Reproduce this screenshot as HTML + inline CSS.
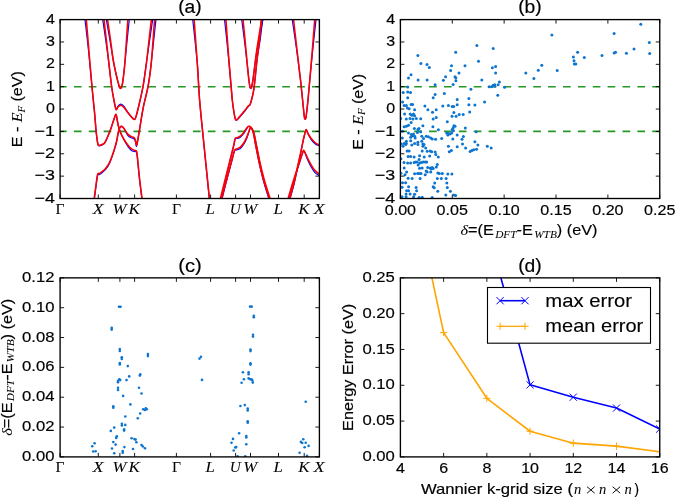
<!DOCTYPE html><html><head><meta charset="utf-8"><style>html,body{margin:0;padding:0;background:#fff;overflow:hidden}svg{display:block;will-change:transform}text{font-family:"Liberation Sans",sans-serif;fill:#000;stroke:#000;stroke-width:0.18px}.m{font-family:"Liberation Serif",serif;font-style:italic;stroke-width:0.05px}.u{font-family:"Liberation Serif",serif;font-style:normal;stroke-width:0.05px}</style></head><body>
<svg width="675" height="497" viewBox="0 0 675 497">
<defs><clipPath id="ca"><rect x="60.1" y="19.6" width="259.29999999999995" height="178.9"/></clipPath><clipPath id="cb"><rect x="400.4" y="19.6" width="259.35" height="178.9"/></clipPath><clipPath id="cc"><rect x="60.1" y="277.85" width="259.29999999999995" height="179.04999999999995"/></clipPath><clipPath id="cd"><rect x="400.4" y="277.85" width="259.35" height="179.04999999999995"/></clipPath></defs>
<g clip-path="url(#ca)" fill="none" stroke-linejoin="round">
<line x1="60.1" y1="86.69" x2="319.4" y2="86.69" stroke="#259825" stroke-width="1.6" stroke-dasharray="7.7 7.18" stroke-dashoffset="1.1"/>
<line x1="60.1" y1="131.41" x2="319.4" y2="131.41" stroke="#259825" stroke-width="1.6" stroke-dasharray="7.7 7.18" stroke-dashoffset="1.1"/>
<path d="M84.70,17.10C85.34,22.71 87.35,39.11 88.56,50.76C89.78,62.41 91.01,76.79 92.00,87.00C92.99,97.21 93.83,104.83 94.50,112.00C95.17,119.17 95.55,125.29 96.00,130.00C96.45,134.71 96.83,137.69 97.20,140.23C97.57,142.78 97.73,144.36 98.20,145.26C98.67,146.17 99.28,145.78 100.00,145.67C100.72,145.57 101.65,145.19 102.50,144.65C103.35,144.10 103.83,144.70 105.10,142.39C106.37,140.08 108.57,134.83 110.10,130.80C111.63,126.77 113.30,120.93 114.30,118.20C115.30,115.47 115.62,114.10 116.10,114.40C116.58,114.70 116.80,117.98 117.20,120.00C117.60,122.02 117.95,124.41 118.50,126.50C119.05,128.59 119.58,130.33 120.50,132.53C121.42,134.73 122.72,137.33 124.00,139.72C125.28,142.11 126.88,145.05 128.20,146.88C129.52,148.71 130.72,149.89 131.90,150.68C133.08,151.47 134.52,151.39 135.30,151.61C136.08,151.84 136.23,150.86 136.60,152.04C136.97,153.22 137.02,154.18 137.50,158.71C137.98,163.25 138.73,172.23 139.50,179.25C140.27,186.27 141.67,197.22 142.10,200.81" stroke="#0000ff" stroke-width="1.2"/>
<path d="M102.40,17.10C103.28,23.23 106.12,42.22 107.67,53.87C109.22,65.52 110.56,78.81 111.70,87.00C112.84,95.19 113.77,99.25 114.50,103.00C115.23,106.75 115.52,108.96 116.10,109.50C116.68,110.04 117.20,107.13 118.00,106.25C118.80,105.37 119.90,104.16 120.90,104.20C121.90,104.24 122.82,105.08 124.00,106.50C125.18,107.92 126.75,110.95 128.00,112.70C129.25,114.45 130.37,115.88 131.50,117.00C132.63,118.12 133.88,120.07 134.80,119.40C135.72,118.73 136.12,116.20 137.00,113.00C137.88,109.80 139.08,104.67 140.10,100.20C141.12,95.73 142.08,92.18 143.10,86.18C144.12,80.19 145.19,71.34 146.20,64.23C147.21,57.11 148.05,51.37 149.19,43.51C150.32,35.66 152.36,21.50 153.00,17.10" stroke="#0000ff" stroke-width="1.2"/>
<path d="M105.90,17.10C106.52,20.64 108.44,31.34 109.63,38.33C110.82,45.32 111.99,53.18 113.05,59.05C114.11,64.92 115.11,69.49 116.00,73.55C116.89,77.61 117.80,81.08 118.40,83.39C119.00,85.70 119.25,86.56 119.60,87.40C119.95,88.24 120.20,88.40 120.50,88.40C120.80,88.40 121.05,88.32 121.40,87.40C121.75,86.48 122.17,85.52 122.60,82.87C123.03,80.22 123.56,75.45 124.00,71.48C124.44,67.51 124.34,68.11 125.25,59.05C126.17,49.99 128.79,24.09 129.50,17.10" stroke="#0000ff" stroke-width="1.2"/>
<path d="M94.10,200.81C94.42,198.42 95.42,190.63 96.00,186.44C96.58,182.25 97.05,177.64 97.60,175.66C98.15,173.67 98.72,174.89 99.30,174.53C99.88,174.17 100.08,174.30 101.10,173.50C102.12,172.70 103.98,171.41 105.40,169.70C106.82,167.99 108.20,166.24 109.60,163.23C111.00,160.22 112.63,155.24 113.80,151.63C114.97,148.02 115.82,144.92 116.60,141.57C117.38,138.21 117.93,133.88 118.50,131.50C119.07,129.13 119.43,128.15 120.00,127.30C120.57,126.45 121.23,126.20 121.90,126.40C122.57,126.60 122.98,126.97 124.00,128.50C125.02,130.03 126.75,134.02 128.00,135.58C129.25,137.14 130.45,137.26 131.50,137.84C132.55,138.42 133.62,138.33 134.30,139.07C134.98,139.82 135.23,141.08 135.60,142.30C135.97,143.53 136.17,146.60 136.50,146.43C136.83,146.25 137.17,143.59 137.60,141.26C138.03,138.92 138.18,137.92 139.10,132.43C140.02,126.93 141.60,116.01 143.10,108.30C144.60,100.59 146.77,93.53 148.10,86.18C149.43,78.84 149.75,75.74 151.10,64.23C152.45,52.71 155.35,24.95 156.20,17.10" stroke="#0000ff" stroke-width="1.2"/>
<path d="M192.50,17.10C193.32,24.95 196.22,50.41 197.40,64.23C198.58,78.04 198.50,86.48 199.60,100.00C200.70,113.52 202.35,128.56 204.00,145.37C205.65,162.17 208.58,191.57 209.50,200.81" stroke="#0000ff" stroke-width="1.2"/>
<path d="M220.30,200.81C220.92,198.28 222.72,190.89 224.00,185.62C225.28,180.35 226.75,174.32 228.00,169.19C229.25,164.05 230.58,158.58 231.50,154.81C232.42,151.05 232.95,148.99 233.50,146.60C234.05,144.20 234.45,141.84 234.80,140.44C235.15,139.03 235.10,138.50 235.60,138.18C236.10,137.85 236.97,138.68 237.80,138.47C238.63,138.26 239.67,137.68 240.60,136.92C241.53,136.17 242.52,135.08 243.40,133.94C244.28,132.81 245.13,131.31 245.90,130.10C246.67,128.89 247.43,127.33 248.00,126.70C248.57,126.07 248.77,126.12 249.30,126.30C249.83,126.48 250.53,126.76 251.20,127.80C251.87,128.84 252.57,129.67 253.30,132.53C254.03,135.39 254.60,139.79 255.60,144.95C256.60,150.12 257.93,157.34 259.30,163.54C260.67,169.74 262.10,175.91 263.80,182.13C265.50,188.34 268.55,197.70 269.50,200.81" stroke="#0000ff" stroke-width="1.2"/>
<path d="M221.60,200.81C222.22,198.33 224.08,190.72 225.30,185.92C226.52,181.13 227.78,176.34 228.90,172.06C230.02,167.78 231.05,163.80 232.00,160.25C232.95,156.71 233.77,152.54 234.60,150.81C235.43,149.08 236.00,150.30 237.00,149.87C238.00,149.44 239.42,149.23 240.60,148.21C241.78,147.20 243.05,145.49 244.10,143.80C245.15,142.10 246.08,140.13 246.90,138.05C247.72,135.97 248.43,133.01 249.00,131.30C249.57,129.59 249.88,128.35 250.30,127.80C250.72,127.25 250.90,127.13 251.50,128.00C252.10,128.87 253.10,130.22 253.90,133.04C254.70,135.87 255.28,139.87 256.30,144.95C257.32,150.04 258.63,157.34 260.00,163.54C261.37,169.74 262.80,175.91 264.50,182.13C266.20,188.34 269.25,197.70 270.20,200.81" stroke="#0000ff" stroke-width="1.2"/>
<path d="M224.30,17.10C224.94,23.23 227.05,42.56 228.17,53.87C229.29,65.18 230.31,77.25 231.00,84.94C231.69,92.63 231.87,95.82 232.30,100.00C232.73,104.18 233.05,106.73 233.60,110.00C234.15,113.27 234.87,118.08 235.60,119.60C236.33,121.12 237.10,119.77 238.00,119.10C238.90,118.43 239.80,117.02 241.00,115.60C242.20,114.18 244.00,112.11 245.20,110.60C246.40,109.09 247.38,107.56 248.20,106.54C249.02,105.52 249.47,105.92 250.10,104.50C250.73,103.08 251.33,100.85 252.00,98.00C252.67,95.15 253.24,93.89 254.10,87.40C254.96,80.91 256.11,67.23 257.15,59.05C258.20,50.87 259.41,45.32 260.37,38.33C261.33,31.34 262.48,20.64 262.90,17.10" stroke="#0000ff" stroke-width="1.2"/>
<path d="M241.40,17.10C241.97,21.50 243.78,35.14 244.81,43.51C245.85,51.88 246.90,61.12 247.60,67.33C248.30,73.55 248.60,77.52 249.00,80.80C249.40,84.08 249.70,85.75 250.00,87.00C250.30,88.25 250.53,88.30 250.80,88.30C251.07,88.30 251.27,88.25 251.60,87.00C251.93,85.75 252.40,83.39 252.80,80.80C253.20,78.21 253.31,76.48 254.00,71.48C254.69,66.47 255.84,57.49 256.94,50.76C258.04,44.03 259.54,36.69 260.62,31.08C261.69,25.47 262.94,19.43 263.40,17.10" stroke="#0000ff" stroke-width="1.2"/>
<path d="M291.90,17.10C292.67,22.37 295.06,38.25 296.49,48.69C297.92,59.13 299.48,71.21 300.50,79.76C301.52,88.31 302.05,94.63 302.60,100.00C303.15,105.37 303.48,109.03 303.80,112.00C304.12,114.97 304.27,116.60 304.50,117.80C304.73,119.00 304.97,119.20 305.20,119.20C305.43,119.20 305.65,119.00 305.90,117.80C306.15,116.60 306.35,114.97 306.70,112.00C307.05,109.03 307.48,105.37 308.00,100.00C308.52,94.63 308.95,88.66 309.80,79.76C310.65,70.87 312.00,57.06 313.08,46.62C314.16,36.18 315.76,22.02 316.30,17.10" stroke="#0000ff" stroke-width="1.2"/>
<path d="M289.50,200.81C290.25,198.08 292.57,190.32 294.00,184.38C295.43,178.45 296.93,170.66 298.10,165.18C299.27,159.71 300.10,155.86 301.00,151.53C301.90,147.20 302.83,142.28 303.50,139.20C304.17,136.12 304.55,134.64 305.00,133.04C305.45,131.44 305.70,129.51 306.20,129.60C306.70,129.69 307.20,131.93 308.00,133.56C308.80,135.19 309.83,137.70 311.00,139.39C312.17,141.08 313.58,142.61 315.00,143.70C316.42,144.78 318.75,145.53 319.50,145.90" stroke="#0000ff" stroke-width="1.2"/>
<path d="M288.00,200.81C288.83,197.90 291.02,189.91 293.00,183.36C294.98,176.80 298.32,166.45 299.90,161.49C301.48,156.52 301.88,155.36 302.50,153.58C303.12,151.80 303.18,150.89 303.60,150.81C304.02,150.72 304.35,151.62 305.00,153.07C305.65,154.51 306.53,157.28 307.50,159.46C308.47,161.65 309.55,164.00 310.80,166.18C312.05,168.36 313.55,170.96 315.00,172.55C316.45,174.14 318.75,175.18 319.50,175.70" stroke="#0000ff" stroke-width="1.2"/>
<path d="M86.30,19.50C86.75,24.92 88.05,40.75 89.00,52.00C89.95,63.25 91.08,77.00 92.00,87.00C92.92,97.00 93.83,104.83 94.50,112.00C95.17,119.17 95.55,125.33 96.00,130.00C96.45,134.67 96.83,137.52 97.20,140.00C97.57,142.48 97.73,144.02 98.20,144.90C98.67,145.78 99.28,145.40 100.00,145.30C100.72,145.20 101.65,144.83 102.50,144.30C103.35,143.77 103.83,144.35 105.10,142.10C106.37,139.85 108.57,134.78 110.10,130.80C111.63,126.82 113.30,120.93 114.30,118.20C115.30,115.47 115.62,114.10 116.10,114.40C116.58,114.70 116.80,117.98 117.20,120.00C117.60,122.02 117.95,124.42 118.50,126.50C119.05,128.58 119.58,130.33 120.50,132.50C121.42,134.67 122.72,137.33 124.00,139.50C125.28,141.67 126.88,143.88 128.20,145.50C129.52,147.12 130.72,148.37 131.90,149.20C133.08,150.03 134.52,150.12 135.30,150.50C136.08,150.88 136.23,150.25 136.60,151.50C136.97,152.75 137.02,153.58 137.50,158.00C137.98,162.42 138.73,171.17 139.50,178.00C140.27,184.83 141.67,195.50 142.10,199.00" stroke="#ff0000" stroke-width="1.6"/>
<path d="M104.00,19.50C104.67,25.42 106.72,43.75 108.00,55.00C109.28,66.25 110.62,79.00 111.70,87.00C112.78,95.00 113.77,99.25 114.50,103.00C115.23,106.75 115.52,108.83 116.10,109.50C116.68,110.17 117.20,107.72 118.00,107.00C118.80,106.28 119.90,105.12 120.90,105.20C121.90,105.28 122.82,106.25 124.00,107.50C125.18,108.75 126.75,111.12 128.00,112.70C129.25,114.28 130.37,115.88 131.50,117.00C132.63,118.12 133.88,120.07 134.80,119.40C135.72,118.73 136.12,116.20 137.00,113.00C137.88,109.80 139.08,104.67 140.10,100.20C141.12,95.73 142.08,92.07 143.10,86.20C144.12,80.33 145.30,71.87 146.20,65.00C147.10,58.13 147.63,52.58 148.50,45.00C149.37,37.42 150.92,23.75 151.40,19.50" stroke="#ff0000" stroke-width="1.6"/>
<path d="M107.50,19.50C108.00,22.92 109.55,33.25 110.50,40.00C111.45,46.75 112.28,54.33 113.20,60.00C114.12,65.67 115.13,70.08 116.00,74.00C116.87,77.92 117.80,81.27 118.40,83.50C119.00,85.73 119.25,86.58 119.60,87.40C119.95,88.22 120.20,88.40 120.50,88.40C120.80,88.40 121.05,88.30 121.40,87.40C121.75,86.50 122.17,85.57 122.60,83.00C123.03,80.43 123.58,75.83 124.00,72.00C124.42,68.17 124.45,68.75 125.10,60.00C125.75,51.25 127.43,26.25 127.90,19.50" stroke="#ff0000" stroke-width="1.6"/>
<path d="M94.10,199.00C94.42,196.67 95.42,189.08 96.00,185.00C96.58,180.92 97.05,176.43 97.60,174.50C98.15,172.57 98.72,173.75 99.30,173.40C99.88,173.05 100.08,173.18 101.10,172.40C102.12,171.62 103.98,170.37 105.40,168.70C106.82,167.03 108.20,165.33 109.60,162.40C111.00,159.47 112.63,154.62 113.80,151.10C114.97,147.58 115.82,144.57 116.60,141.30C117.38,138.03 117.93,133.83 118.50,131.50C119.07,129.17 119.43,128.15 120.00,127.30C120.57,126.45 121.23,126.20 121.90,126.40C122.57,126.60 122.98,127.17 124.00,128.50C125.02,129.83 126.75,133.05 128.00,134.40C129.25,135.75 130.45,136.03 131.50,136.60C132.55,137.17 133.62,137.07 134.30,137.80C134.98,138.53 135.23,139.72 135.60,141.00C135.97,142.28 136.17,145.50 136.50,145.50C136.83,145.50 137.17,143.18 137.60,141.00C138.03,138.82 138.18,137.85 139.10,132.40C140.02,126.95 141.60,116.00 143.10,108.30C144.60,100.60 146.77,93.42 148.10,86.20C149.43,78.98 150.02,76.12 151.10,65.00C152.18,53.88 154.02,27.08 154.60,19.50" stroke="#ff0000" stroke-width="1.6"/>
<path d="M194.10,19.50C194.65,27.08 196.48,51.58 197.40,65.00C198.32,78.42 198.50,86.67 199.60,100.00C200.70,113.33 202.35,128.50 204.00,145.00C205.65,161.50 208.58,190.00 209.50,199.00" stroke="#ff0000" stroke-width="1.6"/>
<path d="M220.30,199.00C220.92,196.53 222.72,189.33 224.00,184.20C225.28,179.07 226.75,173.20 228.00,168.20C229.25,163.20 230.58,157.87 231.50,154.20C232.42,150.53 232.95,148.53 233.50,146.20C234.05,143.87 234.45,141.57 234.80,140.20C235.15,138.83 235.10,138.45 235.60,138.00C236.10,137.55 236.97,137.85 237.80,137.50C238.63,137.15 239.67,136.65 240.60,135.90C241.53,135.15 242.52,134.12 243.40,133.00C244.28,131.88 245.13,130.25 245.90,129.20C246.67,128.15 247.43,127.18 248.00,126.70C248.57,126.22 248.77,126.12 249.30,126.30C249.83,126.48 250.53,126.77 251.20,127.80C251.87,128.83 252.57,129.70 253.30,132.50C254.03,135.30 254.60,139.57 255.60,144.60C256.60,149.63 257.93,156.67 259.30,162.70C260.67,168.73 262.10,174.75 263.80,180.80C265.50,186.85 268.55,195.97 269.50,199.00" stroke="#ff0000" stroke-width="1.6"/>
<path d="M221.60,199.00C222.22,196.58 224.08,189.17 225.30,184.50C226.52,179.83 227.78,175.17 228.90,171.00C230.02,166.83 231.05,162.95 232.00,159.50C232.95,156.05 233.77,152.07 234.60,150.30C235.43,148.53 236.00,149.48 237.00,148.90C238.00,148.32 239.42,147.87 240.60,146.80C241.78,145.73 243.05,144.15 244.10,142.50C245.15,140.85 246.08,138.77 246.90,136.90C247.72,135.03 248.43,132.82 249.00,131.30C249.57,129.78 249.88,128.35 250.30,127.80C250.72,127.25 250.90,127.13 251.50,128.00C252.10,128.87 253.10,130.23 253.90,133.00C254.70,135.77 255.28,139.65 256.30,144.60C257.32,149.55 258.63,156.67 260.00,162.70C261.37,168.73 262.80,174.75 264.50,180.80C266.20,186.85 269.25,195.97 270.20,199.00" stroke="#ff0000" stroke-width="1.6"/>
<path d="M225.90,19.50C226.33,25.42 227.65,44.08 228.50,55.00C229.35,65.92 230.37,77.50 231.00,85.00C231.63,92.50 231.87,95.83 232.30,100.00C232.73,104.17 233.05,106.73 233.60,110.00C234.15,113.27 234.87,118.18 235.60,119.60C236.33,121.02 237.10,119.27 238.00,118.50C238.90,117.73 239.80,116.42 241.00,115.00C242.20,113.58 244.00,111.50 245.20,110.00C246.40,108.50 247.38,106.92 248.20,106.00C249.02,105.08 249.47,105.83 250.10,104.50C250.73,103.17 251.33,100.85 252.00,98.00C252.67,95.15 253.27,93.73 254.10,87.40C254.93,81.07 256.10,67.90 257.00,60.00C257.90,52.10 258.78,46.75 259.50,40.00C260.22,33.25 261.00,22.92 261.30,19.50" stroke="#ff0000" stroke-width="1.6"/>
<path d="M243.00,19.50C243.42,23.75 244.73,36.92 245.50,45.00C246.27,53.08 247.02,62.00 247.60,68.00C248.18,74.00 248.60,77.83 249.00,81.00C249.40,84.17 249.70,85.78 250.00,87.00C250.30,88.22 250.53,88.30 250.80,88.30C251.07,88.30 251.27,88.22 251.60,87.00C251.93,85.78 252.40,83.50 252.80,81.00C253.20,78.50 253.38,76.83 254.00,72.00C254.62,67.17 255.58,58.50 256.50,52.00C257.42,45.50 258.62,38.42 259.50,33.00C260.38,27.58 261.42,21.75 261.80,19.50" stroke="#ff0000" stroke-width="1.6"/>
<path d="M293.50,19.50C294.08,24.58 295.83,39.92 297.00,50.00C298.17,60.08 299.57,71.67 300.50,80.00C301.43,88.33 302.05,94.67 302.60,100.00C303.15,105.33 303.48,109.03 303.80,112.00C304.12,114.97 304.27,116.60 304.50,117.80C304.73,119.00 304.97,119.20 305.20,119.20C305.43,119.20 305.65,119.00 305.90,117.80C306.15,116.60 306.35,114.97 306.70,112.00C307.05,109.03 307.48,105.33 308.00,100.00C308.52,94.67 309.05,88.67 309.80,80.00C310.55,71.33 311.68,58.08 312.50,48.00C313.32,37.92 314.33,24.25 314.70,19.50" stroke="#ff0000" stroke-width="1.6"/>
<path d="M289.50,199.00C290.25,196.33 292.57,188.78 294.00,183.00C295.43,177.22 296.93,169.63 298.10,164.30C299.27,158.97 300.10,155.22 301.00,151.00C301.90,146.78 302.83,142.00 303.50,139.00C304.17,136.00 304.55,134.57 305.00,133.00C305.45,131.43 305.70,129.52 306.20,129.60C306.70,129.68 307.20,132.05 308.00,133.50C308.80,134.95 309.83,136.80 311.00,138.30C312.17,139.80 313.58,141.33 315.00,142.50C316.42,143.67 318.75,144.83 319.50,145.30" stroke="#ff0000" stroke-width="1.6"/>
<path d="M288.00,199.00C288.83,196.17 291.02,188.38 293.00,182.00C294.98,175.62 298.32,165.53 299.90,160.70C301.48,155.87 301.88,154.73 302.50,153.00C303.12,151.27 303.18,150.38 303.60,150.30C304.02,150.22 304.35,151.22 305.00,152.50C305.65,153.78 306.53,156.03 307.50,158.00C308.47,159.97 309.55,162.22 310.80,164.30C312.05,166.38 313.55,168.83 315.00,170.50C316.45,172.17 318.75,173.67 319.50,174.30" stroke="#ff0000" stroke-width="1.6"/>
</g>
<g clip-path="url(#cb)">
<line x1="400.4" y1="86.69" x2="659.75" y2="86.69" stroke="#259825" stroke-width="1.6" stroke-dasharray="7.7 7.18" stroke-dashoffset="1.1"/>
<line x1="400.4" y1="131.41" x2="659.75" y2="131.41" stroke="#259825" stroke-width="1.6" stroke-dasharray="7.7 7.18" stroke-dashoffset="1.1"/>
<g fill="#0d75cf">
<ellipse cx="417.9" cy="55.6" rx="1.5" ry="1.5"/>
<ellipse cx="420.9" cy="63.5" rx="1.5" ry="1.5"/>
<ellipse cx="427.0" cy="64.4" rx="1.5" ry="1.5"/>
<ellipse cx="429.3" cy="67.5" rx="1.5" ry="1.5"/>
<ellipse cx="451.5" cy="65.7" rx="1.5" ry="1.5"/>
<ellipse cx="450.6" cy="70.5" rx="1.5" ry="1.5"/>
<ellipse cx="411.0" cy="74.7" rx="1.5" ry="1.5"/>
<ellipse cx="408.5" cy="77.9" rx="1.5" ry="1.5"/>
<ellipse cx="418.1" cy="79.9" rx="1.5" ry="1.5"/>
<ellipse cx="427.1" cy="79.9" rx="1.5" ry="1.5"/>
<ellipse cx="445.6" cy="76.8" rx="1.5" ry="1.5"/>
<ellipse cx="443.4" cy="80.2" rx="1.5" ry="1.5"/>
<ellipse cx="455.0" cy="76.8" rx="1.5" ry="1.5"/>
<ellipse cx="455.8" cy="77.9" rx="1.5" ry="1.5"/>
<ellipse cx="455.9" cy="80.7" rx="1.5" ry="1.5"/>
<ellipse cx="435.1" cy="84.7" rx="1.5" ry="1.5"/>
<ellipse cx="453.1" cy="84.6" rx="1.5" ry="1.5"/>
<ellipse cx="407.7" cy="87.1" rx="1.5" ry="1.5"/>
<ellipse cx="403.2" cy="92.6" rx="1.5" ry="1.5"/>
<ellipse cx="407.7" cy="91.9" rx="1.5" ry="1.5"/>
<ellipse cx="410.5" cy="92.6" rx="1.5" ry="1.5"/>
<ellipse cx="435.1" cy="94.5" rx="1.5" ry="1.5"/>
<ellipse cx="444.3" cy="93.5" rx="1.5" ry="1.5"/>
<ellipse cx="407.7" cy="97.8" rx="1.5" ry="1.5"/>
<ellipse cx="433.2" cy="97.8" rx="1.5" ry="1.5"/>
<ellipse cx="457.2" cy="99.5" rx="1.5" ry="1.5"/>
<ellipse cx="402.6" cy="102.0" rx="1.5" ry="1.5"/>
<ellipse cx="404.1" cy="105.4" rx="1.5" ry="1.5"/>
<ellipse cx="406.3" cy="105.4" rx="1.5" ry="1.5"/>
<ellipse cx="411.1" cy="104.5" rx="1.5" ry="1.5"/>
<ellipse cx="412.6" cy="104.5" rx="1.5" ry="1.5"/>
<ellipse cx="407.4" cy="107.9" rx="1.5" ry="1.5"/>
<ellipse cx="409.1" cy="108.7" rx="1.5" ry="1.5"/>
<ellipse cx="424.9" cy="105.9" rx="1.5" ry="1.5"/>
<ellipse cx="442.8" cy="105.9" rx="1.5" ry="1.5"/>
<ellipse cx="448.4" cy="105.4" rx="1.5" ry="1.5"/>
<ellipse cx="452.2" cy="106.5" rx="1.5" ry="1.5"/>
<ellipse cx="453.7" cy="106.5" rx="1.5" ry="1.5"/>
<ellipse cx="457.2" cy="104.8" rx="1.5" ry="1.5"/>
<ellipse cx="414.6" cy="109.8" rx="1.5" ry="1.5"/>
<ellipse cx="427.9" cy="109.8" rx="1.5" ry="1.5"/>
<ellipse cx="436.2" cy="109.8" rx="1.5" ry="1.5"/>
<ellipse cx="404.6" cy="114.1" rx="1.5" ry="1.5"/>
<ellipse cx="410.2" cy="114.1" rx="1.5" ry="1.5"/>
<ellipse cx="413.5" cy="114.1" rx="1.5" ry="1.5"/>
<ellipse cx="432.5" cy="112.2" rx="1.5" ry="1.5"/>
<ellipse cx="453.9" cy="112.6" rx="1.5" ry="1.5"/>
<ellipse cx="411.8" cy="115.2" rx="1.5" ry="1.5"/>
<ellipse cx="414.6" cy="115.7" rx="1.5" ry="1.5"/>
<ellipse cx="452.0" cy="116.3" rx="1.5" ry="1.5"/>
<ellipse cx="456.1" cy="116.3" rx="1.5" ry="1.5"/>
<ellipse cx="406.3" cy="119.1" rx="1.5" ry="1.5"/>
<ellipse cx="410.0" cy="118.5" rx="1.5" ry="1.5"/>
<ellipse cx="412.9" cy="119.1" rx="1.5" ry="1.5"/>
<ellipse cx="416.3" cy="118.5" rx="1.5" ry="1.5"/>
<ellipse cx="420.7" cy="118.7" rx="1.5" ry="1.5"/>
<ellipse cx="433.2" cy="119.1" rx="1.5" ry="1.5"/>
<ellipse cx="436.2" cy="117.4" rx="1.5" ry="1.5"/>
<ellipse cx="411.1" cy="122.4" rx="1.5" ry="1.5"/>
<ellipse cx="447.3" cy="121.8" rx="1.5" ry="1.5"/>
<ellipse cx="404.1" cy="126.8" rx="1.5" ry="1.5"/>
<ellipse cx="406.3" cy="126.3" rx="1.5" ry="1.5"/>
<ellipse cx="408.5" cy="125.2" rx="1.5" ry="1.5"/>
<ellipse cx="422.9" cy="125.7" rx="1.5" ry="1.5"/>
<ellipse cx="432.9" cy="126.8" rx="1.5" ry="1.5"/>
<ellipse cx="453.9" cy="125.7" rx="1.5" ry="1.5"/>
<ellipse cx="455.0" cy="126.3" rx="1.5" ry="1.5"/>
<ellipse cx="453.1" cy="127.9" rx="1.5" ry="1.5"/>
<ellipse cx="414.4" cy="128.5" rx="1.5" ry="1.5"/>
<ellipse cx="419.0" cy="128.5" rx="1.5" ry="1.5"/>
<ellipse cx="417.9" cy="129.6" rx="1.5" ry="1.5"/>
<ellipse cx="438.4" cy="129.8" rx="1.5" ry="1.5"/>
<ellipse cx="452.2" cy="129.6" rx="1.5" ry="1.5"/>
<ellipse cx="453.4" cy="130.7" rx="1.5" ry="1.5"/>
<ellipse cx="402.4" cy="131.2" rx="1.5" ry="1.5"/>
<ellipse cx="408.5" cy="132.9" rx="1.5" ry="1.5"/>
<ellipse cx="417.4" cy="132.4" rx="1.5" ry="1.5"/>
<ellipse cx="420.7" cy="131.8" rx="1.5" ry="1.5"/>
<ellipse cx="446.7" cy="132.9" rx="1.5" ry="1.5"/>
<ellipse cx="448.4" cy="133.5" rx="1.5" ry="1.5"/>
<ellipse cx="450.0" cy="134.0" rx="1.5" ry="1.5"/>
<ellipse cx="451.7" cy="132.9" rx="1.5" ry="1.5"/>
<ellipse cx="447.8" cy="135.1" rx="1.5" ry="1.5"/>
<ellipse cx="411.3" cy="134.6" rx="1.5" ry="1.5"/>
<ellipse cx="413.5" cy="134.0" rx="1.5" ry="1.5"/>
<ellipse cx="412.4" cy="135.7" rx="1.5" ry="1.5"/>
<ellipse cx="414.6" cy="136.2" rx="1.5" ry="1.5"/>
<ellipse cx="421.8" cy="136.2" rx="1.5" ry="1.5"/>
<ellipse cx="426.2" cy="136.2" rx="1.5" ry="1.5"/>
<ellipse cx="428.4" cy="136.8" rx="1.5" ry="1.5"/>
<ellipse cx="457.2" cy="135.1" rx="1.5" ry="1.5"/>
<ellipse cx="402.4" cy="137.9" rx="1.5" ry="1.5"/>
<ellipse cx="410.7" cy="137.3" rx="1.5" ry="1.5"/>
<ellipse cx="415.2" cy="137.9" rx="1.5" ry="1.5"/>
<ellipse cx="423.5" cy="138.4" rx="1.5" ry="1.5"/>
<ellipse cx="430.7" cy="137.9" rx="1.5" ry="1.5"/>
<ellipse cx="432.3" cy="139.0" rx="1.5" ry="1.5"/>
<ellipse cx="435.6" cy="139.3" rx="1.5" ry="1.5"/>
<ellipse cx="441.7" cy="138.4" rx="1.5" ry="1.5"/>
<ellipse cx="452.8" cy="139.0" rx="1.5" ry="1.5"/>
<ellipse cx="406.3" cy="141.2" rx="1.5" ry="1.5"/>
<ellipse cx="410.7" cy="140.7" rx="1.5" ry="1.5"/>
<ellipse cx="421.8" cy="141.2" rx="1.5" ry="1.5"/>
<ellipse cx="401.3" cy="144.0" rx="1.5" ry="1.5"/>
<ellipse cx="404.1" cy="143.4" rx="1.5" ry="1.5"/>
<ellipse cx="406.3" cy="143.4" rx="1.5" ry="1.5"/>
<ellipse cx="405.7" cy="144.5" rx="1.5" ry="1.5"/>
<ellipse cx="411.8" cy="145.1" rx="1.5" ry="1.5"/>
<ellipse cx="414.6" cy="143.4" rx="1.5" ry="1.5"/>
<ellipse cx="417.9" cy="142.3" rx="1.5" ry="1.5"/>
<ellipse cx="417.9" cy="144.5" rx="1.5" ry="1.5"/>
<ellipse cx="422.9" cy="144.0" rx="1.5" ry="1.5"/>
<ellipse cx="424.0" cy="144.5" rx="1.5" ry="1.5"/>
<ellipse cx="403.0" cy="146.2" rx="1.5" ry="1.5"/>
<ellipse cx="422.9" cy="146.2" rx="1.5" ry="1.5"/>
<ellipse cx="448.4" cy="146.2" rx="1.5" ry="1.5"/>
<ellipse cx="457.2" cy="146.7" rx="1.5" ry="1.5"/>
<ellipse cx="425.7" cy="147.9" rx="1.5" ry="1.5"/>
<ellipse cx="407.1" cy="151.0" rx="1.5" ry="1.5"/>
<ellipse cx="409.1" cy="151.0" rx="1.5" ry="1.5"/>
<ellipse cx="422.2" cy="151.0" rx="1.5" ry="1.5"/>
<ellipse cx="427.2" cy="151.2" rx="1.5" ry="1.5"/>
<ellipse cx="430.2" cy="151.0" rx="1.5" ry="1.5"/>
<ellipse cx="431.7" cy="151.8" rx="1.5" ry="1.5"/>
<ellipse cx="435.2" cy="152.0" rx="1.5" ry="1.5"/>
<ellipse cx="449.3" cy="151.8" rx="1.5" ry="1.5"/>
<ellipse cx="451.4" cy="150.5" rx="1.5" ry="1.5"/>
<ellipse cx="435.8" cy="154.5" rx="1.5" ry="1.5"/>
<ellipse cx="408.1" cy="156.5" rx="1.5" ry="1.5"/>
<ellipse cx="410.6" cy="156.5" rx="1.5" ry="1.5"/>
<ellipse cx="414.1" cy="157.0" rx="1.5" ry="1.5"/>
<ellipse cx="419.6" cy="155.8" rx="1.5" ry="1.5"/>
<ellipse cx="424.2" cy="157.0" rx="1.5" ry="1.5"/>
<ellipse cx="429.7" cy="156.0" rx="1.5" ry="1.5"/>
<ellipse cx="438.3" cy="157.0" rx="1.5" ry="1.5"/>
<ellipse cx="419.1" cy="159.6" rx="1.5" ry="1.5"/>
<ellipse cx="404.0" cy="162.6" rx="1.5" ry="1.5"/>
<ellipse cx="407.6" cy="163.1" rx="1.5" ry="1.5"/>
<ellipse cx="410.6" cy="163.1" rx="1.5" ry="1.5"/>
<ellipse cx="414.1" cy="162.6" rx="1.5" ry="1.5"/>
<ellipse cx="415.6" cy="162.1" rx="1.5" ry="1.5"/>
<ellipse cx="417.1" cy="162.1" rx="1.5" ry="1.5"/>
<ellipse cx="419.6" cy="162.9" rx="1.5" ry="1.5"/>
<ellipse cx="421.2" cy="162.6" rx="1.5" ry="1.5"/>
<ellipse cx="423.2" cy="161.9" rx="1.5" ry="1.5"/>
<ellipse cx="425.2" cy="161.9" rx="1.5" ry="1.5"/>
<ellipse cx="426.7" cy="161.9" rx="1.5" ry="1.5"/>
<ellipse cx="418.1" cy="165.1" rx="1.5" ry="1.5"/>
<ellipse cx="437.3" cy="164.6" rx="1.5" ry="1.5"/>
<ellipse cx="436.3" cy="167.1" rx="1.5" ry="1.5"/>
<ellipse cx="404.2" cy="168.1" rx="1.5" ry="1.5"/>
<ellipse cx="419.6" cy="168.3" rx="1.5" ry="1.5"/>
<ellipse cx="422.2" cy="167.9" rx="1.5" ry="1.5"/>
<ellipse cx="427.7" cy="167.6" rx="1.5" ry="1.5"/>
<ellipse cx="430.2" cy="168.1" rx="1.5" ry="1.5"/>
<ellipse cx="432.2" cy="167.6" rx="1.5" ry="1.5"/>
<ellipse cx="433.2" cy="168.6" rx="1.5" ry="1.5"/>
<ellipse cx="431.2" cy="169.1" rx="1.5" ry="1.5"/>
<ellipse cx="406.6" cy="172.1" rx="1.5" ry="1.5"/>
<ellipse cx="426.2" cy="171.1" rx="1.5" ry="1.5"/>
<ellipse cx="427.2" cy="172.1" rx="1.5" ry="1.5"/>
<ellipse cx="430.7" cy="172.1" rx="1.5" ry="1.5"/>
<ellipse cx="405.0" cy="174.7" rx="1.5" ry="1.5"/>
<ellipse cx="414.6" cy="173.7" rx="1.5" ry="1.5"/>
<ellipse cx="417.6" cy="173.4" rx="1.5" ry="1.5"/>
<ellipse cx="419.1" cy="173.4" rx="1.5" ry="1.5"/>
<ellipse cx="421.0" cy="173.4" rx="1.5" ry="1.5"/>
<ellipse cx="425.2" cy="174.7" rx="1.5" ry="1.5"/>
<ellipse cx="437.8" cy="173.0" rx="1.5" ry="1.5"/>
<ellipse cx="439.3" cy="173.4" rx="1.5" ry="1.5"/>
<ellipse cx="442.3" cy="173.4" rx="1.5" ry="1.5"/>
<ellipse cx="447.8" cy="174.0" rx="1.5" ry="1.5"/>
<ellipse cx="451.9" cy="174.0" rx="1.5" ry="1.5"/>
<ellipse cx="408.1" cy="178.2" rx="1.5" ry="1.5"/>
<ellipse cx="412.1" cy="178.4" rx="1.5" ry="1.5"/>
<ellipse cx="420.1" cy="178.4" rx="1.5" ry="1.5"/>
<ellipse cx="437.3" cy="178.4" rx="1.5" ry="1.5"/>
<ellipse cx="441.3" cy="178.4" rx="1.5" ry="1.5"/>
<ellipse cx="446.1" cy="178.4" rx="1.5" ry="1.5"/>
<ellipse cx="402.5" cy="182.7" rx="1.5" ry="1.5"/>
<ellipse cx="405.6" cy="182.7" rx="1.5" ry="1.5"/>
<ellipse cx="434.7" cy="183.0" rx="1.5" ry="1.5"/>
<ellipse cx="446.8" cy="183.0" rx="1.5" ry="1.5"/>
<ellipse cx="402.0" cy="187.2" rx="1.5" ry="1.5"/>
<ellipse cx="408.6" cy="186.7" rx="1.5" ry="1.5"/>
<ellipse cx="416.1" cy="187.5" rx="1.5" ry="1.5"/>
<ellipse cx="433.2" cy="186.7" rx="1.5" ry="1.5"/>
<ellipse cx="434.2" cy="187.8" rx="1.5" ry="1.5"/>
<ellipse cx="447.3" cy="187.5" rx="1.5" ry="1.5"/>
<ellipse cx="406.6" cy="190.8" rx="1.5" ry="1.5"/>
<ellipse cx="408.6" cy="190.8" rx="1.5" ry="1.5"/>
<ellipse cx="416.6" cy="190.8" rx="1.5" ry="1.5"/>
<ellipse cx="437.8" cy="191.3" rx="1.5" ry="1.5"/>
<ellipse cx="450.4" cy="191.3" rx="1.5" ry="1.5"/>
<ellipse cx="406.1" cy="194.1" rx="1.5" ry="1.5"/>
<ellipse cx="410.1" cy="194.1" rx="1.5" ry="1.5"/>
<ellipse cx="414.6" cy="194.3" rx="1.5" ry="1.5"/>
<ellipse cx="445.8" cy="195.0" rx="1.5" ry="1.5"/>
<ellipse cx="453.9" cy="195.0" rx="1.5" ry="1.5"/>
<ellipse cx="402.0" cy="196.8" rx="1.5" ry="1.5"/>
<ellipse cx="406.1" cy="196.8" rx="1.5" ry="1.5"/>
<ellipse cx="413.6" cy="196.8" rx="1.5" ry="1.5"/>
<ellipse cx="419.1" cy="197.5" rx="1.5" ry="1.5"/>
<ellipse cx="422.2" cy="197.3" rx="1.5" ry="1.5"/>
<ellipse cx="432.2" cy="197.5" rx="1.5" ry="1.5"/>
<ellipse cx="551.9" cy="35.1" rx="1.5" ry="1.5"/>
<ellipse cx="476.9" cy="45.4" rx="1.5" ry="1.5"/>
<ellipse cx="493.2" cy="48.5" rx="1.5" ry="1.5"/>
<ellipse cx="455.7" cy="52.2" rx="1.5" ry="1.5"/>
<ellipse cx="478.5" cy="61.2" rx="1.5" ry="1.5"/>
<ellipse cx="465.0" cy="65.8" rx="1.5" ry="1.5"/>
<ellipse cx="495.6" cy="66.4" rx="1.5" ry="1.5"/>
<ellipse cx="492.4" cy="67.7" rx="1.5" ry="1.5"/>
<ellipse cx="459.0" cy="72.9" rx="1.5" ry="1.5"/>
<ellipse cx="495.6" cy="72.9" rx="1.5" ry="1.5"/>
<ellipse cx="525.8" cy="73.1" rx="1.5" ry="1.5"/>
<ellipse cx="541.8" cy="65.3" rx="1.5" ry="1.5"/>
<ellipse cx="538.3" cy="70.2" rx="1.5" ry="1.5"/>
<ellipse cx="557.2" cy="70.5" rx="1.5" ry="1.5"/>
<ellipse cx="533.9" cy="78.6" rx="1.5" ry="1.5"/>
<ellipse cx="481.8" cy="79.9" rx="1.5" ry="1.5"/>
<ellipse cx="499.4" cy="81.9" rx="1.5" ry="1.5"/>
<ellipse cx="494.8" cy="84.8" rx="1.5" ry="1.5"/>
<ellipse cx="493.2" cy="85.3" rx="1.5" ry="1.5"/>
<ellipse cx="498.1" cy="84.8" rx="1.5" ry="1.5"/>
<ellipse cx="489.1" cy="86.8" rx="1.5" ry="1.5"/>
<ellipse cx="491.6" cy="86.8" rx="1.5" ry="1.5"/>
<ellipse cx="504.6" cy="87.3" rx="1.5" ry="1.5"/>
<ellipse cx="470.9" cy="89.2" rx="1.5" ry="1.5"/>
<ellipse cx="494.8" cy="86.2" rx="1.5" ry="1.5"/>
<ellipse cx="497.8" cy="95.3" rx="1.5" ry="1.5"/>
<ellipse cx="468.9" cy="98.6" rx="1.5" ry="1.5"/>
<ellipse cx="484.6" cy="101.9" rx="1.5" ry="1.5"/>
<ellipse cx="468.9" cy="104.7" rx="1.5" ry="1.5"/>
<ellipse cx="474.9" cy="104.9" rx="1.5" ry="1.5"/>
<ellipse cx="469.7" cy="112.1" rx="1.5" ry="1.5"/>
<ellipse cx="459.2" cy="114.6" rx="1.5" ry="1.5"/>
<ellipse cx="463.2" cy="114.6" rx="1.5" ry="1.5"/>
<ellipse cx="465.3" cy="128.1" rx="1.5" ry="1.5"/>
<ellipse cx="476.1" cy="131.7" rx="1.5" ry="1.5"/>
<ellipse cx="463.4" cy="136.6" rx="1.5" ry="1.5"/>
<ellipse cx="462.0" cy="139.3" rx="1.5" ry="1.5"/>
<ellipse cx="474.9" cy="141.7" rx="1.5" ry="1.5"/>
<ellipse cx="462.5" cy="144.1" rx="1.5" ry="1.5"/>
<ellipse cx="477.9" cy="145.0" rx="1.5" ry="1.5"/>
<ellipse cx="465.6" cy="148.1" rx="1.5" ry="1.5"/>
<ellipse cx="470.1" cy="151.5" rx="1.5" ry="1.5"/>
<ellipse cx="471.9" cy="150.6" rx="1.5" ry="1.5"/>
<ellipse cx="473.7" cy="149.7" rx="1.5" ry="1.5"/>
<ellipse cx="476.5" cy="149.3" rx="1.5" ry="1.5"/>
<ellipse cx="487.3" cy="146.3" rx="1.5" ry="1.5"/>
<ellipse cx="491.2" cy="148.1" rx="1.5" ry="1.5"/>
<ellipse cx="455.6" cy="195.5" rx="1.5" ry="1.5"/>
<ellipse cx="640.8" cy="24.3" rx="1.5" ry="1.5"/>
<ellipse cx="614.1" cy="33.4" rx="1.5" ry="1.5"/>
<ellipse cx="649.3" cy="42.4" rx="1.5" ry="1.5"/>
<ellipse cx="577.6" cy="52.3" rx="1.5" ry="1.5"/>
<ellipse cx="573.4" cy="56.9" rx="1.5" ry="1.5"/>
<ellipse cx="584.3" cy="57.4" rx="1.5" ry="1.5"/>
<ellipse cx="574.0" cy="60.8" rx="1.5" ry="1.5"/>
<ellipse cx="574.3" cy="64.1" rx="1.5" ry="1.5"/>
<ellipse cx="575.8" cy="64.1" rx="1.5" ry="1.5"/>
<ellipse cx="602.0" cy="55.6" rx="1.5" ry="1.5"/>
<ellipse cx="614.1" cy="52.9" rx="1.5" ry="1.5"/>
<ellipse cx="615.5" cy="52.3" rx="1.5" ry="1.5"/>
<ellipse cx="626.4" cy="53.2" rx="1.5" ry="1.5"/>
<ellipse cx="634.0" cy="49.1" rx="1.5" ry="1.5"/>
<ellipse cx="649.7" cy="53.6" rx="1.5" ry="1.5"/>
<ellipse cx="400.9" cy="158.8" rx="1.5" ry="1.5"/>
<ellipse cx="400.9" cy="173.2" rx="1.5" ry="1.5"/>
<ellipse cx="400.6" cy="118.5" rx="1.5" ry="1.5"/>
</g></g>
<g clip-path="url(#cc)"><g fill="#0d75cf">
<circle cx="119.0" cy="306.8" r="1.3"/>
<circle cx="120.6" cy="306.8" r="1.3"/>
<circle cx="111.7" cy="327.9" r="1.3"/>
<circle cx="111.7" cy="329.6" r="1.3"/>
<circle cx="119.8" cy="349.0" r="1.3"/>
<circle cx="119.8" cy="351.0" r="1.3"/>
<circle cx="121.8" cy="357.3" r="1.3"/>
<circle cx="121.8" cy="358.9" r="1.3"/>
<circle cx="119.8" cy="363.1" r="1.3"/>
<circle cx="119.8" cy="364.5" r="1.3"/>
<circle cx="147.9" cy="354.1" r="1.3"/>
<circle cx="147.9" cy="356.1" r="1.3"/>
<circle cx="127.8" cy="366.1" r="1.3"/>
<circle cx="140.3" cy="374.4" r="1.3"/>
<circle cx="129.2" cy="376.4" r="1.3"/>
<circle cx="139.8" cy="375.6" r="1.3"/>
<circle cx="119.3" cy="379.3" r="1.3"/>
<circle cx="118.0" cy="381.0" r="1.3"/>
<circle cx="120.2" cy="380.1" r="1.3"/>
<circle cx="118.0" cy="382.2" r="1.3"/>
<circle cx="126.5" cy="380.1" r="1.3"/>
<circle cx="118.0" cy="387.8" r="1.3"/>
<circle cx="118.0" cy="390.0" r="1.3"/>
<circle cx="139.0" cy="387.8" r="1.3"/>
<circle cx="141.5" cy="393.5" r="1.3"/>
<circle cx="123.1" cy="395.9" r="1.3"/>
<circle cx="113.3" cy="406.2" r="1.3"/>
<circle cx="113.3" cy="407.7" r="1.3"/>
<circle cx="130.4" cy="404.4" r="1.3"/>
<circle cx="143.2" cy="409.2" r="1.3"/>
<circle cx="145.0" cy="410.0" r="1.3"/>
<circle cx="146.7" cy="409.2" r="1.3"/>
<circle cx="145.8" cy="408.3" r="1.3"/>
<circle cx="140.2" cy="413.5" r="1.3"/>
<circle cx="125.3" cy="416.5" r="1.3"/>
<circle cx="137.8" cy="418.2" r="1.3"/>
<circle cx="121.9" cy="423.7" r="1.3"/>
<circle cx="121.9" cy="425.4" r="1.3"/>
<circle cx="125.3" cy="424.9" r="1.3"/>
<circle cx="124.1" cy="429.4" r="1.3"/>
<circle cx="124.1" cy="430.6" r="1.3"/>
<circle cx="114.2" cy="427.6" r="1.3"/>
<circle cx="110.8" cy="430.9" r="1.3"/>
<circle cx="116.8" cy="436.2" r="1.3"/>
<circle cx="116.2" cy="437.9" r="1.3"/>
<circle cx="131.6" cy="438.2" r="1.3"/>
<circle cx="134.4" cy="439.1" r="1.3"/>
<circle cx="135.6" cy="439.6" r="1.3"/>
<circle cx="113.3" cy="442.0" r="1.3"/>
<circle cx="136.4" cy="442.2" r="1.3"/>
<circle cx="94.6" cy="443.2" r="1.3"/>
<circle cx="115.6" cy="444.6" r="1.3"/>
<circle cx="92.2" cy="446.2" r="1.3"/>
<circle cx="141.5" cy="445.1" r="1.3"/>
<circle cx="142.9" cy="446.5" r="1.3"/>
<circle cx="124.4" cy="447.1" r="1.3"/>
<circle cx="112.0" cy="448.5" r="1.3"/>
<circle cx="145.0" cy="448.2" r="1.3"/>
<circle cx="133.0" cy="449.0" r="1.3"/>
<circle cx="93.2" cy="451.5" r="1.3"/>
<circle cx="95.6" cy="451.2" r="1.3"/>
<circle cx="122.7" cy="451.1" r="1.3"/>
<circle cx="122.7" cy="452.8" r="1.3"/>
<circle cx="114.2" cy="453.3" r="1.3"/>
<circle cx="199.5" cy="358.6" r="1.3"/>
<circle cx="201.0" cy="356.8" r="1.3"/>
<circle cx="202.0" cy="379.9" r="1.3"/>
<circle cx="250.1" cy="306.6" r="1.3"/>
<circle cx="251.7" cy="306.6" r="1.3"/>
<circle cx="253.8" cy="315.7" r="1.3"/>
<circle cx="253.8" cy="317.3" r="1.3"/>
<circle cx="253.0" cy="334.7" r="1.3"/>
<circle cx="253.0" cy="336.6" r="1.3"/>
<circle cx="250.5" cy="349.5" r="1.3"/>
<circle cx="250.5" cy="351.1" r="1.3"/>
<circle cx="250.5" cy="363.2" r="1.3"/>
<circle cx="250.5" cy="364.6" r="1.3"/>
<circle cx="242.9" cy="372.3" r="1.3"/>
<circle cx="248.6" cy="372.3" r="1.3"/>
<circle cx="248.6" cy="374.2" r="1.3"/>
<circle cx="243.9" cy="379.3" r="1.3"/>
<circle cx="248.6" cy="378.4" r="1.3"/>
<circle cx="250.2" cy="379.3" r="1.3"/>
<circle cx="251.5" cy="379.3" r="1.3"/>
<circle cx="252.4" cy="380.6" r="1.3"/>
<circle cx="252.8" cy="382.6" r="1.3"/>
<circle cx="241.6" cy="382.7" r="1.3"/>
<circle cx="240.4" cy="406.0" r="1.3"/>
<circle cx="244.8" cy="405.1" r="1.3"/>
<circle cx="247.7" cy="408.5" r="1.3"/>
<circle cx="247.7" cy="410.4" r="1.3"/>
<circle cx="247.7" cy="421.3" r="1.3"/>
<circle cx="247.7" cy="422.8" r="1.3"/>
<circle cx="239.1" cy="433.3" r="1.3"/>
<circle cx="246.3" cy="436.0" r="1.3"/>
<circle cx="246.3" cy="437.5" r="1.3"/>
<circle cx="233.0" cy="438.9" r="1.3"/>
<circle cx="231.5" cy="442.7" r="1.3"/>
<circle cx="246.3" cy="444.2" r="1.3"/>
<circle cx="236.2" cy="447.1" r="1.3"/>
<circle cx="235.3" cy="447.4" r="1.3"/>
<circle cx="233.7" cy="450.5" r="1.3"/>
<circle cx="237.6" cy="456.2" r="1.3"/>
<circle cx="245.2" cy="456.2" r="1.3"/>
<circle cx="305.7" cy="401.7" r="1.3"/>
<circle cx="303.3" cy="439.2" r="1.3"/>
<circle cx="300.9" cy="441.9" r="1.3"/>
<circle cx="302.2" cy="443.0" r="1.3"/>
<circle cx="305.7" cy="442.7" r="1.3"/>
<circle cx="308.6" cy="445.9" r="1.3"/>
<circle cx="304.6" cy="447.2" r="1.3"/>
<circle cx="299.6" cy="452.7" r="1.3"/>
<circle cx="307.0" cy="455.9" r="1.3"/>
</g></g>
<g clip-path="url(#cd)" fill="none">
<polyline points="443.62,62.99 486.85,226.28 530.08,384.85 573.30,397.17 616.52,408.06 659.75,429.04" stroke="#0000ff" stroke-width="1.6" stroke-linejoin="round"/>
<polyline points="400.40,130.31 443.62,332.64 486.85,398.31 530.08,431.26 573.30,443.15 616.52,446.16 659.75,451.74" stroke="#ffa500" stroke-width="1.6" stroke-linejoin="round"/>
<path d="M440.02,59.39L447.23,66.59M440.02,66.59L447.23,59.39" stroke="#0000ff" stroke-width="1"/>
<path d="M483.25,222.68L490.45,229.88M483.25,229.88L490.45,222.68" stroke="#0000ff" stroke-width="1"/>
<path d="M526.48,381.25L533.68,388.45M526.48,388.45L533.68,381.25" stroke="#0000ff" stroke-width="1"/>
<path d="M569.70,393.57L576.90,400.77M569.70,400.77L576.90,393.57" stroke="#0000ff" stroke-width="1"/>
<path d="M612.92,404.46L620.12,411.66M612.92,411.66L620.12,404.46" stroke="#0000ff" stroke-width="1"/>
<path d="M656.15,425.44L663.35,432.64M656.15,432.64L663.35,425.44" stroke="#0000ff" stroke-width="1"/>
<path d="M396.80,130.31h7.20M400.40,126.71v7.20" stroke="#ffa500" stroke-width="1"/>
<path d="M440.02,332.64h7.20M443.62,329.04v7.20" stroke="#ffa500" stroke-width="1"/>
<path d="M483.25,398.31h7.20M486.85,394.71v7.20" stroke="#ffa500" stroke-width="1"/>
<path d="M526.48,431.26h7.20M530.08,427.66v7.20" stroke="#ffa500" stroke-width="1"/>
<path d="M569.70,443.15h7.20M573.30,439.55v7.20" stroke="#ffa500" stroke-width="1"/>
<path d="M612.92,446.16h7.20M616.52,442.56v7.20" stroke="#ffa500" stroke-width="1"/>
<path d="M656.15,451.74h7.20M659.75,448.14v7.20" stroke="#ffa500" stroke-width="1"/>
</g>
<rect x="487.5" y="287.5" width="163" height="55.7" fill="#fff" stroke="#000" stroke-width="1.1"/>
<line x1="500.1" y1="300.7" x2="525" y2="300.7" stroke="#0000ff" stroke-width="1.6"/>
<path d="M496.50,297.10L503.70,304.30M496.50,304.30L503.70,297.10" stroke="#0000ff" stroke-width="1"/>
<path d="M521.40,297.10L528.60,304.30M521.40,304.30L528.60,297.10" stroke="#0000ff" stroke-width="1"/>
<line x1="500.1" y1="326.3" x2="525" y2="326.3" stroke="#ffa500" stroke-width="1.3"/>
<path d="M496.50,326.30h7.20M500.10,322.70v7.20" stroke="#ffa500" stroke-width="1"/>
<path d="M521.40,326.30h7.20M525.00,322.70v7.20" stroke="#ffa500" stroke-width="1"/>
<text x="545.3" y="307.2" font-size="18.2" textLength="86.7" lengthAdjust="spacingAndGlyphs" style="stroke-width:0.12px">max error</text>
<text x="545.3" y="332.0" font-size="18.2" textLength="98" lengthAdjust="spacingAndGlyphs" style="stroke-width:0.12px">mean error</text>
<rect x="60.1" y="19.6" width="259.30" height="178.90" fill="none" stroke="#000" stroke-width="1.35"/>
<path d="M60.10,198.5v-4.0M60.10,19.6v4.0M98.30,198.5v-4.0M98.30,19.6v4.0M119.90,198.5v-4.0M119.90,19.6v4.0M134.60,198.5v-4.0M134.60,19.6v4.0M176.40,198.5v-4.0M176.40,19.6v4.0M210.60,198.5v-4.0M210.60,19.6v4.0M235.60,198.5v-4.0M235.60,19.6v4.0M250.50,198.5v-4.0M250.50,19.6v4.0M278.50,198.5v-4.0M278.50,19.6v4.0M304.20,198.5v-4.0M304.20,19.6v4.0M319.40,198.5v-4.0M319.40,19.6v4.0M60.1,198.50h4.0M319.4,198.50h-4.0M60.1,176.14h4.0M319.4,176.14h-4.0M60.1,153.78h4.0M319.4,153.78h-4.0M60.1,131.41h4.0M319.4,131.41h-4.0M60.1,109.05h4.0M319.4,109.05h-4.0M60.1,86.69h4.0M319.4,86.69h-4.0M60.1,64.33h4.0M319.4,64.33h-4.0M60.1,41.96h4.0M319.4,41.96h-4.0M60.1,19.60h4.0M319.4,19.60h-4.0" stroke="#000" stroke-width="0.9" fill="none"/>
<rect x="400.4" y="19.6" width="259.35" height="178.90" fill="none" stroke="#000" stroke-width="1.35"/>
<path d="M400.40,198.5v-4.0M400.40,19.6v4.0M452.27,198.5v-4.0M452.27,19.6v4.0M504.14,198.5v-4.0M504.14,19.6v4.0M556.01,198.5v-4.0M556.01,19.6v4.0M607.88,198.5v-4.0M607.88,19.6v4.0M659.75,198.5v-4.0M659.75,19.6v4.0M400.4,198.50h4.0M659.75,198.50h-4.0M400.4,176.14h4.0M659.75,176.14h-4.0M400.4,153.78h4.0M659.75,153.78h-4.0M400.4,131.41h4.0M659.75,131.41h-4.0M400.4,109.05h4.0M659.75,109.05h-4.0M400.4,86.69h4.0M659.75,86.69h-4.0M400.4,64.33h4.0M659.75,64.33h-4.0M400.4,41.96h4.0M659.75,41.96h-4.0M400.4,19.60h4.0M659.75,19.60h-4.0" stroke="#000" stroke-width="0.9" fill="none"/>
<rect x="60.1" y="277.85" width="259.30" height="179.05" fill="none" stroke="#000" stroke-width="1.35"/>
<path d="M60.10,456.9v-4.0M60.10,277.85v4.0M98.30,456.9v-4.0M98.30,277.85v4.0M119.90,456.9v-4.0M119.90,277.85v4.0M134.60,456.9v-4.0M134.60,277.85v4.0M176.40,456.9v-4.0M176.40,277.85v4.0M210.60,456.9v-4.0M210.60,277.85v4.0M235.60,456.9v-4.0M235.60,277.85v4.0M250.50,456.9v-4.0M250.50,277.85v4.0M278.50,456.9v-4.0M278.50,277.85v4.0M304.20,456.9v-4.0M304.20,277.85v4.0M319.40,456.9v-4.0M319.40,277.85v4.0M60.1,456.90h4.0M319.4,456.90h-4.0M60.1,427.06h4.0M319.4,427.06h-4.0M60.1,397.22h4.0M319.4,397.22h-4.0M60.1,367.38h4.0M319.4,367.38h-4.0M60.1,337.53h4.0M319.4,337.53h-4.0M60.1,307.69h4.0M319.4,307.69h-4.0M60.1,277.85h4.0M319.4,277.85h-4.0" stroke="#000" stroke-width="0.9" fill="none"/>
<rect x="400.4" y="277.85" width="259.35" height="179.05" fill="none" stroke="#000" stroke-width="1.35"/>
<path d="M400.40,456.9v-4.0M400.40,277.85v4.0M443.62,456.9v-4.0M443.62,277.85v4.0M486.85,456.9v-4.0M486.85,277.85v4.0M530.08,456.9v-4.0M530.08,277.85v4.0M573.30,456.9v-4.0M573.30,277.85v4.0M616.52,456.9v-4.0M616.52,277.85v4.0M659.75,456.9v-4.0M659.75,277.85v4.0M400.4,456.90h4.0M659.75,456.90h-4.0M400.4,421.09h4.0M659.75,421.09h-4.0M400.4,385.28h4.0M659.75,385.28h-4.0M400.4,349.47h4.0M659.75,349.47h-4.0M400.4,313.66h4.0M659.75,313.66h-4.0M400.4,277.85h4.0M659.75,277.85h-4.0" stroke="#000" stroke-width="0.9" fill="none"/>
<text x="54.80" y="202.60" font-size="14.6" text-anchor="end" textLength="20.3" lengthAdjust="spacingAndGlyphs">−4</text>
<text x="54.80" y="180.24" font-size="14.6" text-anchor="end" textLength="20.3" lengthAdjust="spacingAndGlyphs">−3</text>
<text x="54.80" y="157.88" font-size="14.6" text-anchor="end" textLength="20.3" lengthAdjust="spacingAndGlyphs">−2</text>
<text x="54.80" y="135.51" font-size="14.6" text-anchor="end" textLength="20.3" lengthAdjust="spacingAndGlyphs">−1</text>
<text x="54.80" y="113.15" font-size="14.6" text-anchor="end" textLength="8.9" lengthAdjust="spacingAndGlyphs">0</text>
<text x="54.80" y="90.79" font-size="14.6" text-anchor="end" textLength="8.9" lengthAdjust="spacingAndGlyphs">1</text>
<text x="54.80" y="68.42" font-size="14.6" text-anchor="end" textLength="8.9" lengthAdjust="spacingAndGlyphs">2</text>
<text x="54.80" y="46.06" font-size="14.6" text-anchor="end" textLength="8.9" lengthAdjust="spacingAndGlyphs">3</text>
<text x="54.80" y="23.70" font-size="14.6" text-anchor="end" textLength="8.9" lengthAdjust="spacingAndGlyphs">4</text>
<text x="395.10" y="202.60" font-size="14.6" text-anchor="end" textLength="20.3" lengthAdjust="spacingAndGlyphs">−4</text>
<text x="395.10" y="180.24" font-size="14.6" text-anchor="end" textLength="20.3" lengthAdjust="spacingAndGlyphs">−3</text>
<text x="395.10" y="157.88" font-size="14.6" text-anchor="end" textLength="20.3" lengthAdjust="spacingAndGlyphs">−2</text>
<text x="395.10" y="135.51" font-size="14.6" text-anchor="end" textLength="20.3" lengthAdjust="spacingAndGlyphs">−1</text>
<text x="395.10" y="113.15" font-size="14.6" text-anchor="end" textLength="8.9" lengthAdjust="spacingAndGlyphs">0</text>
<text x="395.10" y="90.79" font-size="14.6" text-anchor="end" textLength="8.9" lengthAdjust="spacingAndGlyphs">1</text>
<text x="395.10" y="68.42" font-size="14.6" text-anchor="end" textLength="8.9" lengthAdjust="spacingAndGlyphs">2</text>
<text x="395.10" y="46.06" font-size="14.6" text-anchor="end" textLength="8.9" lengthAdjust="spacingAndGlyphs">3</text>
<text x="395.10" y="23.70" font-size="14.6" text-anchor="end" textLength="8.9" lengthAdjust="spacingAndGlyphs">4</text>
<text x="54.50" y="461.00" font-size="14.6" text-anchor="end" textLength="32.4" lengthAdjust="spacingAndGlyphs">0.00</text>
<text x="54.50" y="431.16" font-size="14.6" text-anchor="end" textLength="32.4" lengthAdjust="spacingAndGlyphs">0.02</text>
<text x="54.50" y="401.32" font-size="14.6" text-anchor="end" textLength="32.4" lengthAdjust="spacingAndGlyphs">0.04</text>
<text x="54.50" y="371.48" font-size="14.6" text-anchor="end" textLength="32.4" lengthAdjust="spacingAndGlyphs">0.06</text>
<text x="54.50" y="341.63" font-size="14.6" text-anchor="end" textLength="32.4" lengthAdjust="spacingAndGlyphs">0.08</text>
<text x="54.50" y="311.79" font-size="14.6" text-anchor="end" textLength="32.4" lengthAdjust="spacingAndGlyphs">0.10</text>
<text x="54.50" y="281.95" font-size="14.6" text-anchor="end" textLength="32.4" lengthAdjust="spacingAndGlyphs">0.12</text>
<text x="394.80" y="461.00" font-size="14.6" text-anchor="end" textLength="32.4" lengthAdjust="spacingAndGlyphs">0.00</text>
<text x="394.80" y="425.19" font-size="14.6" text-anchor="end" textLength="32.4" lengthAdjust="spacingAndGlyphs">0.05</text>
<text x="394.80" y="389.38" font-size="14.6" text-anchor="end" textLength="32.4" lengthAdjust="spacingAndGlyphs">0.10</text>
<text x="394.80" y="353.57" font-size="14.6" text-anchor="end" textLength="32.4" lengthAdjust="spacingAndGlyphs">0.15</text>
<text x="394.80" y="317.76" font-size="14.6" text-anchor="end" textLength="32.4" lengthAdjust="spacingAndGlyphs">0.20</text>
<text x="394.80" y="281.95" font-size="14.6" text-anchor="end" textLength="32.4" lengthAdjust="spacingAndGlyphs">0.25</text>
<text x="400.40" y="214.70" font-size="14.6" text-anchor="middle" textLength="31.3" lengthAdjust="spacingAndGlyphs">0.00</text>
<text x="452.27" y="214.70" font-size="14.6" text-anchor="middle" textLength="31.3" lengthAdjust="spacingAndGlyphs">0.05</text>
<text x="504.14" y="214.70" font-size="14.6" text-anchor="middle" textLength="31.3" lengthAdjust="spacingAndGlyphs">0.10</text>
<text x="556.01" y="214.70" font-size="14.6" text-anchor="middle" textLength="31.3" lengthAdjust="spacingAndGlyphs">0.15</text>
<text x="607.88" y="214.70" font-size="14.6" text-anchor="middle" textLength="31.3" lengthAdjust="spacingAndGlyphs">0.20</text>
<text x="659.75" y="214.70" font-size="14.6" text-anchor="middle" textLength="31.3" lengthAdjust="spacingAndGlyphs">0.25</text>
<text x="400.40" y="473.30" font-size="14.6" text-anchor="middle" textLength="8.9" lengthAdjust="spacingAndGlyphs">4</text>
<text x="443.62" y="473.30" font-size="14.6" text-anchor="middle" textLength="8.9" lengthAdjust="spacingAndGlyphs">6</text>
<text x="486.85" y="473.30" font-size="14.6" text-anchor="middle" textLength="8.9" lengthAdjust="spacingAndGlyphs">8</text>
<text x="530.08" y="473.30" font-size="14.6" text-anchor="middle" textLength="17.8" lengthAdjust="spacingAndGlyphs">10</text>
<text x="573.30" y="473.30" font-size="14.6" text-anchor="middle" textLength="17.8" lengthAdjust="spacingAndGlyphs">12</text>
<text x="616.52" y="473.30" font-size="14.6" text-anchor="middle" textLength="17.8" lengthAdjust="spacingAndGlyphs">14</text>
<text x="659.75" y="473.30" font-size="14.6" text-anchor="middle" textLength="17.8" lengthAdjust="spacingAndGlyphs">16</text>
<text x="60.10" y="213.80" font-size="15" text-anchor="middle" class="u" textLength="9.0" lengthAdjust="spacingAndGlyphs">Γ</text>
<text x="60.10" y="472.20" font-size="15" text-anchor="middle" class="u" textLength="9.0" lengthAdjust="spacingAndGlyphs">Γ</text>
<text x="98.00" y="213.80" font-size="15" text-anchor="middle" class="m" textLength="11.2" lengthAdjust="spacingAndGlyphs">X</text>
<text x="98.00" y="472.20" font-size="15" text-anchor="middle" class="m" textLength="11.2" lengthAdjust="spacingAndGlyphs">X</text>
<text x="119.60" y="213.80" font-size="15" text-anchor="middle" class="m" textLength="14.0" lengthAdjust="spacingAndGlyphs">W</text>
<text x="119.60" y="472.20" font-size="15" text-anchor="middle" class="m" textLength="14.0" lengthAdjust="spacingAndGlyphs">W</text>
<text x="134.30" y="213.80" font-size="15" text-anchor="middle" class="m" textLength="11.4" lengthAdjust="spacingAndGlyphs">K</text>
<text x="134.30" y="472.20" font-size="15" text-anchor="middle" class="m" textLength="11.4" lengthAdjust="spacingAndGlyphs">K</text>
<text x="176.40" y="213.80" font-size="15" text-anchor="middle" class="u" textLength="9.0" lengthAdjust="spacingAndGlyphs">Γ</text>
<text x="176.40" y="472.20" font-size="15" text-anchor="middle" class="u" textLength="9.0" lengthAdjust="spacingAndGlyphs">Γ</text>
<text x="210.30" y="213.80" font-size="15" text-anchor="middle" class="m" textLength="9.4" lengthAdjust="spacingAndGlyphs">L</text>
<text x="210.30" y="472.20" font-size="15" text-anchor="middle" class="m" textLength="9.4" lengthAdjust="spacingAndGlyphs">L</text>
<text x="235.30" y="213.80" font-size="15" text-anchor="middle" class="m" textLength="11.0" lengthAdjust="spacingAndGlyphs">U</text>
<text x="235.30" y="472.20" font-size="15" text-anchor="middle" class="m" textLength="11.0" lengthAdjust="spacingAndGlyphs">U</text>
<text x="250.20" y="213.80" font-size="15" text-anchor="middle" class="m" textLength="14.0" lengthAdjust="spacingAndGlyphs">W</text>
<text x="250.20" y="472.20" font-size="15" text-anchor="middle" class="m" textLength="14.0" lengthAdjust="spacingAndGlyphs">W</text>
<text x="278.20" y="213.80" font-size="15" text-anchor="middle" class="m" textLength="9.4" lengthAdjust="spacingAndGlyphs">L</text>
<text x="278.20" y="472.20" font-size="15" text-anchor="middle" class="m" textLength="9.4" lengthAdjust="spacingAndGlyphs">L</text>
<text x="303.90" y="213.80" font-size="15" text-anchor="middle" class="m" textLength="11.4" lengthAdjust="spacingAndGlyphs">K</text>
<text x="303.90" y="472.20" font-size="15" text-anchor="middle" class="m" textLength="11.4" lengthAdjust="spacingAndGlyphs">K</text>
<text x="319.10" y="213.80" font-size="15" text-anchor="middle" class="m" textLength="11.2" lengthAdjust="spacingAndGlyphs">X</text>
<text x="319.10" y="472.20" font-size="15" text-anchor="middle" class="m" textLength="11.2" lengthAdjust="spacingAndGlyphs">X</text>
<text x="190" y="13.4" font-size="17.6" text-anchor="middle" textLength="23.6" lengthAdjust="spacingAndGlyphs"><tspan dy="-1.1">(</tspan><tspan dy="1.1">a</tspan><tspan dy="-1.1">)</tspan></text>
<text x="530" y="13.4" font-size="17.6" text-anchor="middle" textLength="23.6" lengthAdjust="spacingAndGlyphs"><tspan dy="-1.1">(</tspan><tspan dy="1.1">b</tspan><tspan dy="-1.1">)</tspan></text>
<text x="190" y="271.6" font-size="17.6" text-anchor="middle" textLength="23.6" lengthAdjust="spacingAndGlyphs"><tspan dy="-1.1">(</tspan><tspan dy="1.1">c</tspan><tspan dy="-1.1">)</tspan></text>
<text x="530" y="271.6" font-size="17.6" text-anchor="middle" textLength="23.6" lengthAdjust="spacingAndGlyphs"><tspan dy="-1.1">(</tspan><tspan dy="1.1">d</tspan><tspan dy="-1.1">)</tspan></text>
<text transform="translate(22.3,109.2) rotate(-90)" font-size="14.6" text-anchor="middle" textLength="76" lengthAdjust="spacingAndGlyphs">E - <tspan class="m">E</tspan><tspan class="m" font-size="9.8" dy="2.2">F</tspan><tspan dy="-2.2"> (eV)</tspan></text>
<text transform="translate(362.5,111.8) rotate(-90)" font-size="14.6" text-anchor="middle" textLength="76" lengthAdjust="spacingAndGlyphs">E - <tspan class="m">E</tspan><tspan class="m" font-size="9.8" dy="2.2">F</tspan><tspan dy="-2.2"> (eV)</tspan></text>
<text transform="translate(529,235.3)" font-size="14.6" text-anchor="middle" textLength="137" lengthAdjust="spacingAndGlyphs"><tspan class="m">δ</tspan>=(E<tspan class="m" font-size="10.2" dx="1.2" dy="2.6">DFT</tspan><tspan dy="-2.6">-E</tspan><tspan class="m" font-size="10.2" dx="1.2" dy="2.6">WTB</tspan><tspan dy="-2.6">) (eV)</tspan></text>
<text transform="translate(11.7,367.3) rotate(-90)" font-size="14.6" text-anchor="middle" textLength="137" lengthAdjust="spacingAndGlyphs"><tspan class="m">δ</tspan>=(E<tspan class="m" font-size="10.2" dx="1.2" dy="2.6">DFT</tspan><tspan dy="-2.6">-E</tspan><tspan class="m" font-size="10.2" dx="1.2" dy="2.6">WTB</tspan><tspan dy="-2.6">) (eV)</tspan></text>
<text transform="translate(353.2,367.4) rotate(-90)" font-size="14.6" text-anchor="middle" textLength="127" lengthAdjust="spacingAndGlyphs">Energy Error (eV)</text>
<text x="421.0" y="493.6" font-size="14.6" textLength="152" lengthAdjust="spacingAndGlyphs">Wannier k-grid size (</text>
<text x="574.0" y="493.6" font-size="14.6" class="m">n</text>
<text x="599.0" y="493.6" font-size="14.6" class="m">n</text>
<text x="624.6" y="493.6" font-size="14.6" class="m">n</text>
<path d="M587.05,486.70L594.65,493.20M587.05,493.20L594.65,486.70" stroke="#000" stroke-width="0.95" fill="none"/>
<path d="M612.60,486.70L620.20,493.20M612.60,493.20L620.20,486.70" stroke="#000" stroke-width="0.95" fill="none"/>
<text x="634.6" y="493.6" font-size="14.6" textLength="4.5" lengthAdjust="spacingAndGlyphs">)</text>
</svg></body></html>
